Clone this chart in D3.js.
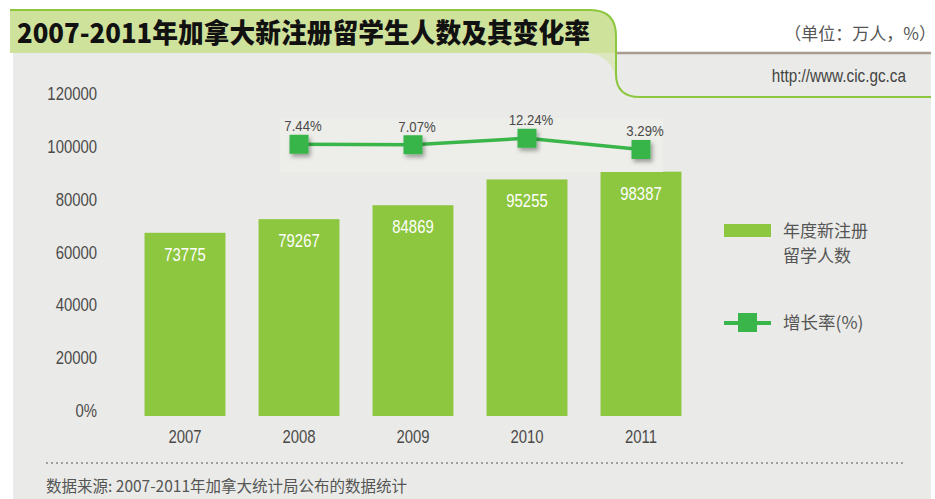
<!DOCTYPE html>
<html>
<head>
<meta charset="utf-8">
<script src="https://cdn.jsdelivr.net/npm/d3@7"></script>
<style>
  body { margin: 0; background: #fff; }
  .cjk { font-family: 'Noto Sans CJK SC', 'Noto Sans', sans-serif; }
</style>
</head>
<body>
<svg id="chart"></svg>
<script>
const years = ['2007', '2008', '2009', '2010', '2011']
const students = [73775, 79267, 84869, 95255, 98387]
const rateYears = ['2008', '2009', '2010', '2011']
const rates = [7.44, 7.07, 12.24, 3.29]
const yTicks = [0, 20000, 40000, 60000, 80000, 100000, 120000]

const title = '2007-2011年加拿大新注册留学生人数及其变化率'
const unitText = '（单位：万人，%）'
const siteText = 'http://www.cic.gc.ca'
const legendBar = ['年度新注册', '留学人数']
const legendLine = '增长率(%)'
const sourceText = '数据来源: 2007-2011年加拿大统计局公布的数据统计'

const W = 935, H = 499
const green = '#8DC63F', lineGreen = '#39B54A', textGray = '#4a4a4a'
const squeeze = 0.85  // reference uses a condensed latin face

const svg = d3.select('#chart').attr('width', W).attr('height', H)

// condensed look: Liberation Sans squeezed horizontally
function narrow(sel, size) {
  sel.attr('font-family', "'Liberation Sans', Arial, sans-serif")
    .attr('font-size', size)
}
function narrowAt(sel, x, y) {
  sel.attr('transform', `translate(${x},${y}) scale(${squeeze},1)`)
}

const defs = svg.append('defs')
defs.append('filter').attr('id', 'shadow')
  .attr('x', '-50%').attr('y', '-50%').attr('width', '200%').attr('height', '200%')
  .append('feDropShadow')
    .attr('dx', 2).attr('dy', 3).attr('stdDeviation', 2)
    .attr('flood-color', '#000').attr('flood-opacity', 0.35)

// background panel + header
svg.append('rect').attr('x', 13).attr('y', 53).attr('width', 918).attr('height', H - 53).attr('fill', '#EAEBE8')
svg.append('path')
  .attr('d', 'M10,10 L590,10 Q616,10 616,36 L616,53 L10,53 Z')
  .attr('fill', '#CFE29C')
svg.append('path')
  .attr('d', 'M585,53 Q612,54 616,80 L616,53 Z')
  .attr('fill', '#DCE7BF')
svg.append('line').attr('x1', 616).attr('x2', 931).attr('y1', 53).attr('y2', 53)
  .attr('stroke', '#A99B8F').attr('stroke-width', 2.5)
svg.append('path')
  .attr('d', 'M10,10 L590,10 Q616,10 616,36 L616,74 Q616,97 640,97 L931,97')
  .attr('fill', 'none').attr('stroke', green).attr('stroke-width', 2)

svg.append('text').attr('class', 'cjk')
  .attr('x', 17).attr('y', 43)
  .attr('font-size', 27).attr('font-weight', 900).attr('fill', '#111')
  .attr('textLength', 573).attr('lengthAdjust', 'spacingAndGlyphs')
  .text(title)
svg.append('text').attr('class', 'cjk')
  .attr('x', 936).attr('y', 40).attr('text-anchor', 'end')
  .attr('font-size', 17).attr('fill', '#555')
  .text(unitText)
svg.append('text')
  .call(narrow, 18).call(narrowAt, 906, 82)
  .attr('text-anchor', 'end').attr('fill', '#444')
  .text(siteText)

// scales
const x = d3.scaleBand().domain(years).range([128, 698]).paddingInner(0.29).paddingOuter(0.145)
const yBar = d3.scaleLinear().domain([0, 120000]).range([416, 118])
const yLabel = d3.scaleLinear().domain([0, 120000]).range([411, 94])
const yRate = d3.scaleLinear().domain([0, 15]).range([153.6, 134.8])

// y axis labels
const yAxis = svg.append('g')
  .attr('transform', 'translate(97,0)')
  .call(d3.axisLeft(yLabel).tickValues(yTicks).tickSize(0).tickPadding(0)
    .tickFormat(d => d === 0 ? '0%' : String(d)))
yAxis.select('.domain').remove()
yAxis.selectAll('text').call(narrow, 17.5)
  .attr('fill', textGray).attr('transform', `scale(${squeeze},1)`)

// bars
svg.append('g').selectAll('rect')
  .data(students)
  .join('rect')
    .attr('x', (d, i) => x(years[i]))
    .attr('y', d => yBar(d))
    .attr('width', x.bandwidth())
    .attr('height', d => yBar(0) - yBar(d))
    .attr('fill', green)

svg.append('g').selectAll('text')
  .data(students)
  .join('text')
    .call(narrow, 17.5)
    .attr('transform', (d, i) => `translate(${x(years[i]) + x.bandwidth() / 2},${yBar(d) + 28}) scale(${squeeze},1)`)
    .attr('text-anchor', 'middle')
    .attr('fill', '#fff')
    .text(d => d)

// year axis
const xAxis = svg.append('g')
  .attr('transform', 'translate(0,416)')
  .call(d3.axisBottom(x).tickSize(0).tickPadding(15))
xAxis.select('.domain').remove()
xAxis.selectAll('text').call(narrow, 17.5)
  .attr('fill', textGray).attr('transform', `scale(${squeeze},1)`)

// growth rate line
const cx = d => x(d) + x.bandwidth() / 2
svg.append('rect').attr('x', 280).attr('y', 118).attr('width', 383).attr('height', 54).attr('fill', '#EDEDE9')

const line = d3.line()
  .x((d, i) => cx(rateYears[i]))
  .y(d => yRate(d))
svg.append('path').datum(rates)
  .attr('d', line)
  .attr('fill', 'none').attr('stroke', lineGreen).attr('stroke-width', 3.5)

const sq = 19
svg.append('g').selectAll('rect')
  .data(rates)
  .join('rect')
    .attr('x', (d, i) => cx(rateYears[i]) - sq / 2)
    .attr('y', d => yRate(d) - sq / 2)
    .attr('width', sq).attr('height', sq)
    .attr('fill', lineGreen)
    .attr('filter', 'url(#shadow)')

svg.append('g').selectAll('text')
  .data(rates)
  .join('text')
    .call(narrow, 15.5)
    .attr('transform', (d, i) => `translate(${cx(rateYears[i]) + 4},${yRate(d) - 13}) scale(${squeeze},1)`)
    .attr('text-anchor', 'middle')
    .attr('fill', textGray)
    .text(d => d.toFixed(2) + '%')

// legend
svg.append('rect').attr('x', 724).attr('y', 224).attr('width', 47).attr('height', 13).attr('fill', green)
svg.append('g').attr('class', 'cjk').selectAll('text')
  .data(legendBar)
  .join('text')
    .attr('x', 783).attr('y', (d, i) => 237 + i * 24.7)
    .attr('font-size', 17).attr('fill', '#555')
    .text(d => d)
svg.append('line').attr('x1', 724).attr('x2', 771).attr('y1', 323).attr('y2', 323)
  .attr('stroke', lineGreen).attr('stroke-width', 4)
svg.append('rect').attr('x', 738).attr('y', 313).attr('width', 19).attr('height', 19).attr('fill', lineGreen)
svg.append('text').attr('class', 'cjk')
  .attr('x', 783).attr('y', 329)
  .attr('font-size', 17.5).attr('fill', '#555')
  .text(legendLine)

// footer
svg.append('line').attr('x1', 46).attr('x2', 906).attr('y1', 463).attr('y2', 463)
  .attr('stroke', '#888').attr('stroke-width', 1.5).attr('stroke-dasharray', '2,3')
svg.append('text').attr('class', 'cjk')
  .attr('x', 46).attr('y', 492)
  .attr('font-size', 15.5).attr('fill', '#555')
  .text(sourceText)
</script>
</body>
</html>
